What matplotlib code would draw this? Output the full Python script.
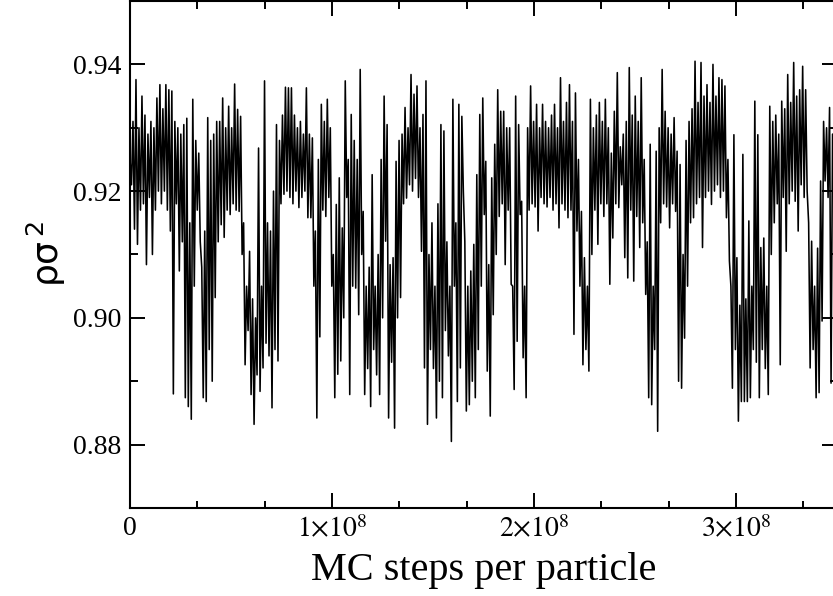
import matplotlib
matplotlib.use("Agg")
import matplotlib.pyplot as plt
from matplotlib.ticker import MultipleLocator
import numpy as np

# density trace, one sample every 7.4e5 MC steps
density = [
    0.925, 0.921, 0.931, 0.914, 0.9376, 0.9116, 0.930, 0.917, 0.935, 0.918, 0.932, 0.9084, 0.929, 0.919, 0.931, 0.910, 0.930, 0.917, 0.9347, 0.920,
    0.9368, 0.918, 0.933, 0.920, 0.9368, 0.917, 0.936, 0.9137, 0.9358, 0.888, 0.931, 0.918, 0.930, 0.9074, 0.929, 0.912, 0.9305, 0.8874, 0.9315, 0.886,
    0.915, 0.884, 0.9345, 0.905, 0.928, 0.917, 0.926, 0.912, 0.908, 0.8874, 0.9137, 0.8868, 0.9316, 0.895, 0.928, 0.890, 0.929, 0.9032, 0.931, 0.912,
    0.931, 0.9147, 0.9347, 0.9127, 0.930, 0.917, 0.9334, 0.9163, 0.930, 0.918, 0.9369, 0.917, 0.9329, 0.9168, 0.9318, 0.910, 0.915, 0.8926, 0.905, 0.898,
    0.9105, 0.8879, 0.903, 0.8832, 0.900, 0.891, 0.9268, 0.8884, 0.905, 0.8921, 0.9374, 0.896, 0.915, 0.894, 0.9137, 0.8858, 0.920, 0.895, 0.9305, 0.8932,
    0.928, 0.918, 0.932, 0.9195, 0.9364, 0.920, 0.9363, 0.919, 0.9363, 0.918, 0.932, 0.920, 0.930, 0.9174, 0.931, 0.919, 0.929, 0.920, 0.9363, 0.9158,
    0.929, 0.9158, 0.9284, 0.905, 0.9137, 0.8842, 0.925, 0.897, 0.9337, 0.917, 0.931, 0.916, 0.9345, 0.919, 0.930, 0.905, 0.910, 0.8874, 0.9179, 0.8911,
    0.9221, 0.8932, 0.9142, 0.900, 0.9374, 0.919, 0.925, 0.8879, 0.9321, 0.905, 0.928, 0.9047, 0.925, 0.9005, 0.9392, 0.910, 0.9168, 0.8879, 0.905, 0.892,
    0.908, 0.886, 0.9226, 0.895, 0.905, 0.891, 0.910, 0.8879, 0.925, 0.900, 0.935, 0.9121, 0.9305, 0.8842, 0.9084, 0.893, 0.9095, 0.8826, 0.9247, 0.900,
    0.928, 0.9032, 0.929, 0.918, 0.9332, 0.9189, 0.930, 0.921, 0.9384, 0.920, 0.9353, 0.922, 0.9366, 0.919, 0.930, 0.9105, 0.9321, 0.8921, 0.9374, 0.8832,
    0.910, 0.895, 0.915, 0.892, 0.905, 0.8842, 0.918, 0.890, 0.9305, 0.8874, 0.9295, 0.898, 0.912, 0.894, 0.905, 0.8805, 0.9345, 0.905, 0.915, 0.8868,
    0.9337, 0.8921, 0.9318, 0.920, 0.912, 0.8853, 0.905, 0.8863, 0.9074, 0.890, 0.9116, 0.8874, 0.9226, 0.895, 0.9321, 0.905, 0.9347, 0.9163, 0.9247, 0.8916,
    0.9084, 0.8845, 0.9221, 0.9005, 0.9274, 0.910, 0.936, 0.916, 0.9326, 0.918, 0.9326, 0.9084, 0.930, 0.917, 0.930, 0.9053, 0.905, 0.8887, 0.935, 0.8963,
    0.9305, 0.9163, 0.9184, 0.8937, 0.905, 0.8874, 0.930, 0.917, 0.9366, 0.918, 0.931, 0.9175, 0.9337, 0.9137, 0.930, 0.919, 0.9337, 0.918, 0.931, 0.9175,
    0.930, 0.919, 0.932, 0.917, 0.9337, 0.918, 0.930, 0.9142, 0.9379, 0.918, 0.931, 0.917, 0.934, 0.9158, 0.9368, 0.917, 0.931, 0.8974, 0.9355, 0.9137,
    0.925, 0.905, 0.9168, 0.8926, 0.9095, 0.895, 0.905, 0.8916, 0.9345, 0.910, 0.930, 0.917, 0.932, 0.9116, 0.934, 0.918, 0.931, 0.916, 0.9345, 0.918,
    0.930, 0.9053, 0.926, 0.9126, 0.9326, 0.918, 0.9387, 0.9174, 0.927, 0.921, 0.929, 0.9095, 0.931, 0.9063, 0.9395, 0.917, 0.932, 0.9058, 0.935, 0.916,
    0.931, 0.9111, 0.9379, 0.915, 0.925, 0.9037, 0.912, 0.8874, 0.9274, 0.8863, 0.905, 0.895, 0.9263, 0.8821, 0.930, 0.915, 0.9392, 0.918, 0.9326, 0.9175,
    0.930, 0.9142, 0.929, 0.918, 0.9316, 0.9168, 0.9263, 0.890, 0.9242, 0.8889, 0.910, 0.8968, 0.928, 0.905, 0.931, 0.915, 0.933, 0.9158, 0.9405, 0.918,
    0.934, 0.919, 0.9403, 0.9111, 0.935, 0.919, 0.9368, 0.920, 0.934, 0.9179, 0.940, 0.920, 0.935, 0.921, 0.9379, 0.919, 0.9376, 0.920, 0.9366, 0.9158,
    0.925, 0.909, 0.905, 0.8889, 0.9289, 0.895, 0.9095, 0.8837, 0.902, 0.8868, 0.9258, 0.8868, 0.903, 0.8868, 0.9153, 0.8874, 0.905, 0.895, 0.9342, 0.893,
    0.9289, 0.8874, 0.9111, 0.895, 0.9126, 0.892, 0.905, 0.8879, 0.9334, 0.910, 0.931, 0.915, 0.932, 0.918, 0.929, 0.8926, 0.9342, 0.919, 0.933, 0.9105,
    0.9384, 0.918, 0.934, 0.920, 0.9403, 0.9184, 0.935, 0.9137, 0.936, 0.921, 0.9397, 0.919, 0.936, 0.920, 0.915, 0.8921, 0.9121, 0.895, 0.905, 0.8874,
    0.911, 0.8882, 0.9216, 0.8995, 0.931, 0.9216, 0.930, 0.919, 0.9332, 0.8897, 0.929, 0.918,
]
sample_interval = 7.4e5

x_ticks = [0, 1e8, 2e8, 3e8]
x_tick_labels = ['0', r'$1{\times}10^{8}$', r'$2{\times}10^{8}$', r'$3{\times}10^{8}$']
y_ticks = [0.88, 0.90, 0.92, 0.94]
y_tick_labels = ['0.88', '0.90', '0.92', '0.94']

plt.rcParams['font.family'] = ['Liberation Serif', 'DejaVu Serif']
plt.rcParams['mathtext.fontset'] = 'stix'

steps = np.arange(len(density)) * sample_interval

fig = plt.figure(figsize=(8.33, 5.96), dpi=100)
# the original picture is cropped on the right, so the axes run a little past the edge
ax = fig.add_axes([130 / 833, 88 / 596, 707 / 833, 507 / 596])
ax.plot(steps, density, color='black', linewidth=1.15)

ax.set_xlim(0, 3.5e8)
ax.set_ylim(0.87, 0.95)
ax.set_xticks(x_ticks, x_tick_labels)
ax.set_yticks(y_ticks, y_tick_labels)
ax.xaxis.set_minor_locator(MultipleLocator(1e8 / 3))
ax.yaxis.set_minor_locator(MultipleLocator(0.01))

ax.tick_params(which='both', direction='in', top=True, right=True, width=1.4)
ax.tick_params(which='major', length=10.8, labelsize=20, pad=6)
ax.tick_params(which='minor', length=5.4)
for spine in ax.spines.values():
    spine.set_linewidth(1.5)

ax.set_xlabel('MC steps per particle', fontsize=29, labelpad=6)
ax.set_ylabel(r'ρσ$^{\,2}$', fontsize=26, family='DejaVu Sans', labelpad=4,
              math_fontfamily='dejavusans')

fig.savefig('out.png', dpi=100)
